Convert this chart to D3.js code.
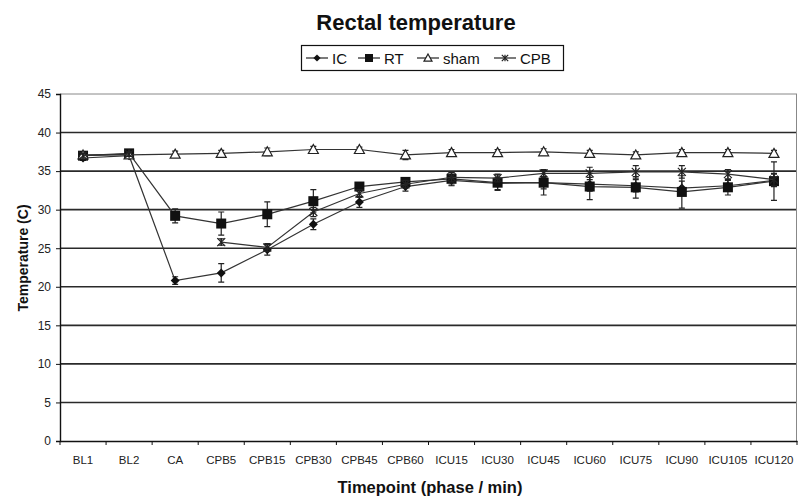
<!DOCTYPE html>
<html>
<head>
<meta charset="utf-8">
<script src="https://cdn.jsdelivr.net/npm/d3@7"></script>
<style>
  html, body { margin: 0; padding: 0; background: #fff; }
  svg { display: block; font-family: Arial, "Liberation Sans", sans-serif; }
</style>
</head>
<body>
<svg id="chart" width="798" height="500"></svg>
<script>
const categories = ["BL1","BL2","CA","CPB5","CPB15","CPB30","CPB45","CPB60","ICU15","ICU30","ICU45","ICU60","ICU75","ICU90","ICU105","ICU120"];
const yTicks = [0,5,10,15,20,25,30,35,40,45];

const icValues   = [36.7, 37.0, 20.8, 21.8, 24.8, 28.1, 31.0, 33.0, 33.8, 33.4, 33.5, 33.3, 33.1, 32.8, 33.1, 33.8];
const icErrors   = [0.3, 0.3, 0.5, 1.2, 0.7, 0.7, 0.7, 0.6, 0.7, 0.8, 0.8, 0.9, 0.8, 0.9, 0.7, 0.8];
const rtValues   = [37.0, 37.3, 29.2, 28.2, 29.4, 31.1, 33.0, 33.6, 34.0, 33.5, 33.5, 33.0, 32.9, 32.3, 32.9, 33.7];
const rtErrors   = [0.3, 0.3, 0.9, 1.5, 1.6, 1.5, 0.5, 0.5, 0.8, 1.0, 1.6, 1.7, 1.4, 2.1, 1.0, 2.5];
const shamValues = [37.1, 37.1, 37.2, 37.3, 37.5, 37.8, 37.8, 37.1, 37.4, 37.4, 37.5, 37.3, 37.1, 37.4, 37.4, 37.3];
const shamErrors = [0.3, 0.3, 0.4, 0.4, 0.5, 0.4, 0.3, 0.6, 0.4, 0.4, 0.4, 0.4, 0.4, 0.4, 0.4, 0.4];
const cpbValues  = [37.0, 37.2, null, 25.8, 25.1, 29.7, 32.1, 33.3, 34.2, 34.1, 34.7, 34.7, 34.9, 34.9, 34.6, 33.9];
const cpbErrors  = [0.3, 0.3, null, 0.4, 0.5, 0.6, 0.5, 0.5, 0.6, 0.5, 0.5, 0.8, 0.8, 0.8, 0.6, 0.8];

const seriesNames = ["IC","RT","sham","CPB"];
const seriesMarkers = ["diamond","square","triangle","star"];

const series = [
  {name: seriesNames[0], marker: seriesMarkers[0], values: icValues, errors: icErrors},
  {name: seriesNames[1], marker: seriesMarkers[1], values: rtValues, errors: rtErrors},
  {name: seriesNames[2], marker: seriesMarkers[2], values: shamValues, errors: shamErrors},
  {name: seriesNames[3], marker: seriesMarkers[3], values: cpbValues, errors: cpbErrors}
];

const svg = d3.select("#chart");
const plot = {left: 60, right: 797, top: 94, bottom: 441};

const x = d3.scaleBand().domain(categories).range([plot.left, plot.right]);
const y = d3.scaleLinear().domain([0, 45]).range([plot.bottom, plot.top]);
const cx = c => x(c) + x.bandwidth() / 2;

// gridlines
svg.append("g").selectAll("line").data(yTicks.filter(t => t > 0 && t < 45)).join("line")
  .attr("x1", plot.left).attr("x2", plot.right)
  .attr("y1", d => y(d)).attr("y2", d => y(d))
  .attr("stroke", "#2a2a2a").attr("stroke-width", 1.6);

// frame
svg.append("line").attr("x1", plot.left).attr("x2", plot.right).attr("y1", y(45)).attr("y2", y(45))
  .attr("stroke", "#888").attr("stroke-width", 1);
svg.append("line").attr("x1", plot.right - 0.5).attr("x2", plot.right - 0.5).attr("y1", y(45)).attr("y2", y(0))
  .attr("stroke", "#888").attr("stroke-width", 1);

// axes
const yAxis = d3.axisLeft(y).tickValues(yTicks).tickSize(4).tickPadding(5);
const gy = svg.append("g").attr("transform", `translate(${plot.left},0)`).call(yAxis);
gy.select(".domain").attr("stroke", "#111").attr("stroke-width", 1.4);
gy.selectAll(".tick line").attr("stroke", "#111");
gy.selectAll("text").attr("font-size", 12).attr("fill", "#222").attr("font-family", "Arial, 'Liberation Sans', sans-serif");

const xAxis = d3.axisBottom(x).tickSize(0).tickPadding(15);
const gx = svg.append("g").attr("transform", `translate(0,${plot.bottom})`).call(xAxis);
gx.select(".domain").attr("stroke", "#111").attr("stroke-width", 1.6);
gx.selectAll("text").attr("font-size", 11.5).attr("fill", "#222").attr("font-family", "Arial, 'Liberation Sans', sans-serif");
// tick marks at band boundaries
const boundaries = categories.map(c => x(c)).concat([plot.right]);
svg.append("g").selectAll("line").data(boundaries).join("line")
  .attr("x1", d => d).attr("x2", d => d)
  .attr("y1", plot.bottom).attr("y2", plot.bottom + 4)
  .attr("stroke", "#111").attr("stroke-width", 1);

// titles
svg.append("text").attr("x", 416).attr("y", 30).attr("text-anchor", "middle")
  .attr("font-size", 22).attr("font-weight", "bold").attr("fill", "#111").text("Rectal temperature");
svg.append("text").attr("x", 430).attr("y", 493).attr("text-anchor", "middle")
  .attr("font-size", 16.5).attr("font-weight", "bold").attr("fill", "#111").text("Timepoint (phase / min)");
svg.append("text").attr("transform", "translate(28,258) rotate(-90)").attr("text-anchor", "middle")
  .attr("font-size", 14).attr("font-weight", "bold").attr("fill", "#111").text("Temperature (C)");

// marker drawing
function drawMarker(g, type, px, py, s) {
  if (type === "diamond") {
    g.append("path").attr("d", `M${px},${py - s}L${px + s},${py}L${px},${py + s}L${px - s},${py}Z`).attr("fill", "#111");
  } else if (type === "square") {
    g.append("rect").attr("x", px - s).attr("y", py - s).attr("width", 2 * s).attr("height", 2 * s).attr("fill", "#111");
  } else if (type === "triangle") {
    g.append("path").attr("d", `M${px},${py - s}L${px + s},${py + s * 0.8}L${px - s},${py + s * 0.8}Z`)
      .attr("fill", "#fff").attr("stroke", "#222").attr("stroke-width", 1.2);
  } else if (type === "star") {
    g.append("path").attr("d", `M${px - s},${py - s}L${px + s},${py + s}M${px - s},${py + s}L${px + s},${py - s}M${px},${py - s}L${px},${py + s}`)
      .attr("stroke", "#222").attr("stroke-width", 1.2).attr("fill", "none");
  }
}
const markerSize = {diamond: 4.5, square: 5, triangle: 5, star: 4};

const lineGen = d3.line().defined(d => d.v !== null).x(d => cx(d.c)).y(d => y(d.v));

series.forEach(s => {
  const pts = categories.map((c, i) => ({c, v: s.values[i], e: s.errors[i]}));
  const g = svg.append("g");
  g.append("path").datum(pts).attr("d", lineGen).attr("fill", "none").attr("stroke", "#333").attr("stroke-width", 1.2);
  // error bars
  pts.filter(d => d.v !== null).forEach(d => {
    const px = cx(d.c);
    g.append("path").attr("d",
      `M${px},${y(d.v + d.e)}L${px},${y(d.v - d.e)}M${px - 3},${y(d.v + d.e)}L${px + 3},${y(d.v + d.e)}M${px - 3},${y(d.v - d.e)}L${px + 3},${y(d.v - d.e)}`)
      .attr("stroke", "#222").attr("stroke-width", 1.2).attr("fill", "none");
  });
  pts.filter(d => d.v !== null).forEach(d => drawMarker(g, s.marker, cx(d.c), y(d.v), markerSize[s.marker]));
});

// legend
const legend = svg.append("g");
legend.append("rect").attr("x", 301.5).attr("y", 45.5).attr("width", 262).attr("height", 25)
  .attr("fill", "#fff").attr("stroke", "#111").attr("stroke-width", 1.2);
const legendX = [306, 358, 417, 494];
series.forEach((s, i) => {
  const lx = legendX[i], ly = 58;
  legend.append("line").attr("x1", lx).attr("x2", lx + 22).attr("y1", ly).attr("y2", ly).attr("stroke", "#222").attr("stroke-width", 1.2);
  drawMarker(legend, s.marker, lx + 11, ly, markerSize[s.marker] * 0.8);
  legend.append("text").attr("x", lx + 26).attr("y", ly + 5.5).attr("font-size", 15).attr("fill", "#111").text(s.name);
});
</script>
</body>
</html>
